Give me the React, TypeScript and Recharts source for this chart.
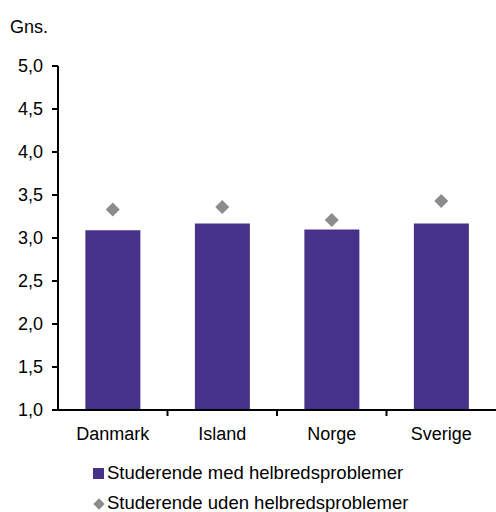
import { ComposedChart, Bar, Scatter, XAxis, YAxis } from "recharts";

const lande = ["Danmark", "Island", "Norge", "Sverige"];
const medProblemer = [3.09, 3.17, 3.1, 3.17];
const udenProblemer = [3.33, 3.36, 3.21, 3.43];
const yTicks = [1, 1.5, 2, 2.5, 3, 3.5, 4, 4.5, 5];

const PURPLE = "#47328A";
const GREY = "#8C8C8C";
const FONT = "'Liberation Sans', Arial, sans-serif";

const data = lande.map((land, i) => ({ land, med: medProblemer[i], uden: udenProblemer[i] }));

function Diamond(props: any) {
  const { cx, cy } = props;
  if (cx == null || cy == null) return null;
  const r = 7;
  return <path d={`M${cx},${cy - r}L${cx + r},${cy}L${cx},${cy + r}L${cx - r},${cy}Z`} fill={GREY} />;
}

// category label + Excel-style tick mark on the boundary to the right of each band
function LandTick(props: any) {
  const { x, y, payload, index } = props;
  const half = payload.offset || 0;
  const axisY = y - 17;
  return (
    <g>
      {index < lande.length - 1 && half > 0 && (
        <line x1={x + half} x2={x + half} y1={axisY} y2={axisY + 6} stroke="#000" strokeWidth={2} />
      )}
      <text x={x} y={y} dy="0.71em" textAnchor="middle" fill="#000" fontSize={18} fontFamily={FONT}>
        {payload.value}
      </text>
    </g>
  );
}

export default function App() {
  return (
    <div style={{ position: "absolute", left: 0, top: 0, width: 496, height: 512, fontFamily: FONT, background: "#fff" }}>
      <div style={{ position: "absolute", left: 10, top: 18, fontSize: 18, lineHeight: "18px", color: "#000" }}>Gns.</div>
      <ComposedChart width={496} height={512} data={data} margin={{ top: 66, right: 0, left: 0, bottom: 0 }} barCategoryGap="25%">
        <XAxis
          dataKey="land"
          axisLine={{ stroke: "#000", strokeWidth: 2 }}
          tickLine={false}
          tickSize={5}
          tickMargin={12}
          height={102}
          tick={<LandTick />}
          interval={0}
        />
        <YAxis
          domain={[1, 5]}
          ticks={yTicks}
          width={58}
          interval={0}
          tickFormatter={(v: number) => v.toFixed(1).replace(".", ",")}
          axisLine={{ stroke: "#000", strokeWidth: 2 }}
          tickLine={{ stroke: "#000", strokeWidth: 2 }}
          tickSize={6}
          tickMargin={9}
          tick={{ fill: "#000", fontSize: 18, fontFamily: FONT }}
        />
        <Bar dataKey="med" fill={PURPLE} isAnimationActive={false} />
        <Scatter dataKey="uden" shape={Diamond} isAnimationActive={false} />
      </ComposedChart>
      <div style={{ position: "absolute", left: 93, top: 464, fontSize: 18.5, lineHeight: "18px", color: "#000", whiteSpace: "nowrap" }}>
        <span style={{ display: "inline-block", width: 11, height: 11, background: PURPLE, marginRight: 3 }} />
        Studerende med helbredsproblemer
      </div>
      <div style={{ position: "absolute", left: 93, top: 494, fontSize: 18.5, lineHeight: "18px", color: "#000", whiteSpace: "nowrap" }}>
        <span style={{ display: "inline-block", width: 11, height: 11, marginRight: 3, position: "relative" }}>
          <span style={{ position: "absolute", left: 1.5, top: 1.5, width: 8, height: 8, background: GREY, transform: "rotate(45deg)" }} />
        </span>
        Studerende uden helbredsproblemer
      </div>
    </div>
  );
}
